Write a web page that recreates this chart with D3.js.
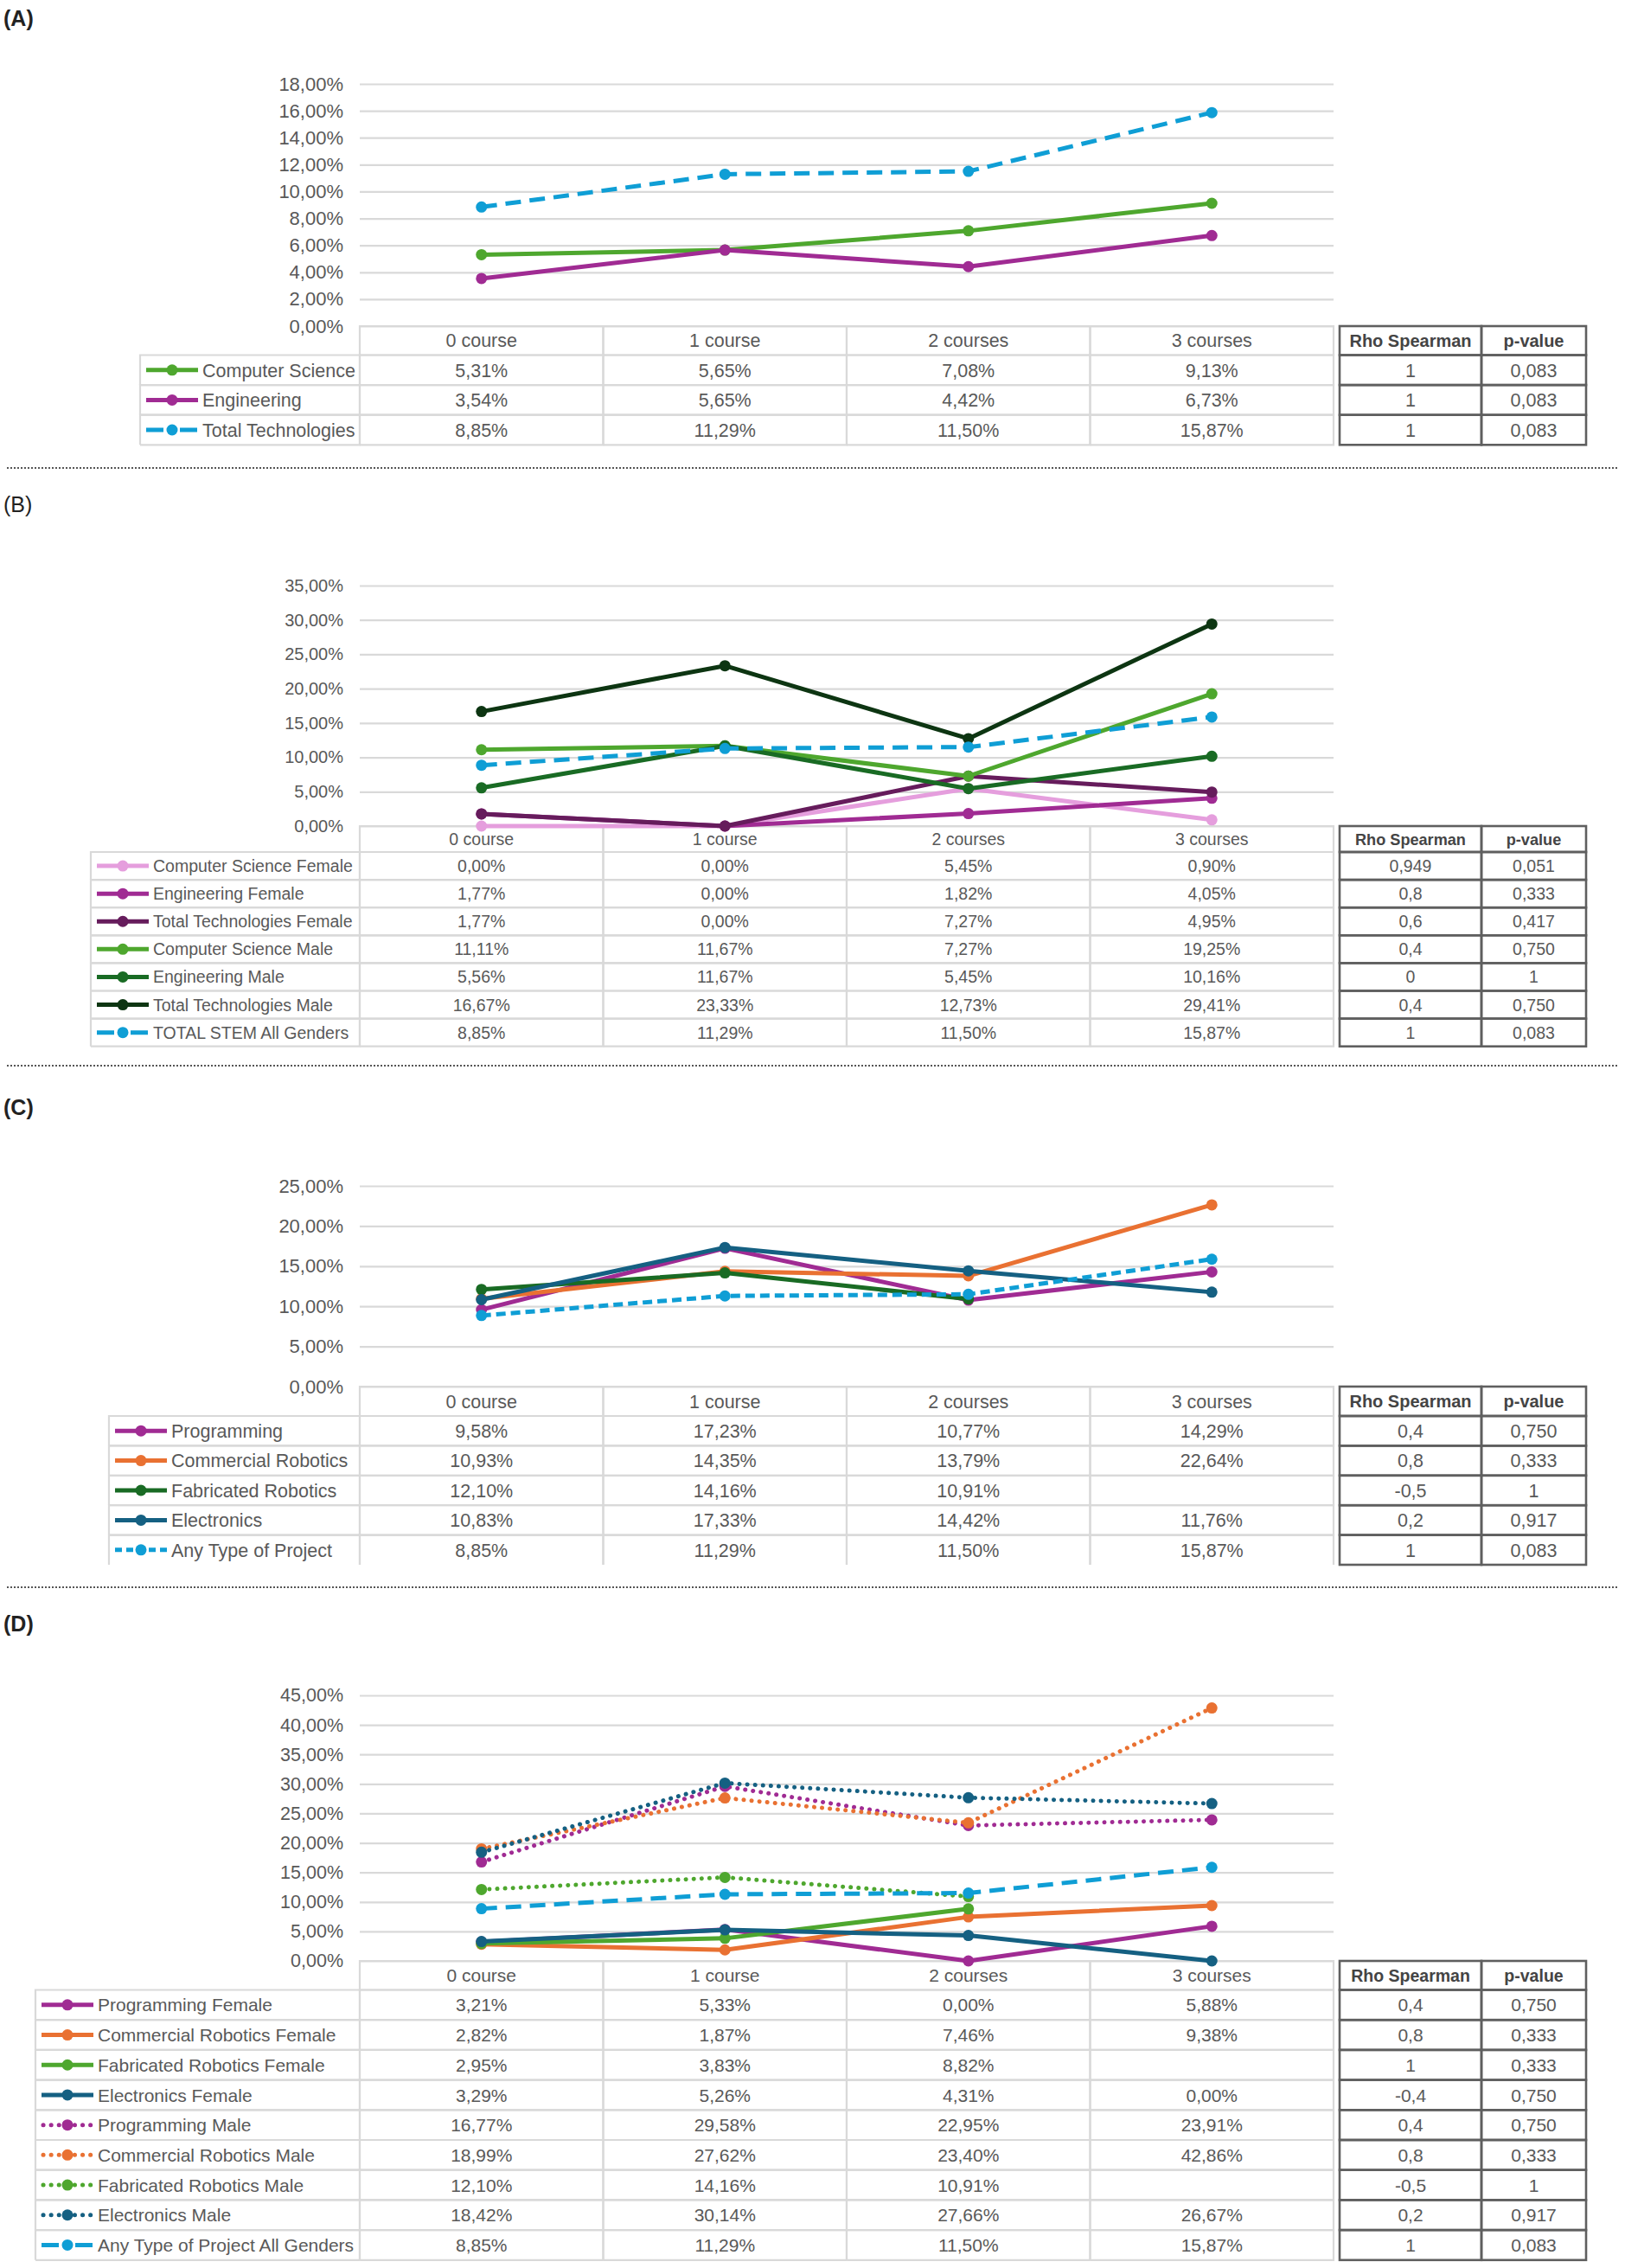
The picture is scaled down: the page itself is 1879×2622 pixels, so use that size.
<!DOCTYPE html>
<html>
<head>
<meta charset="utf-8">
<script src="https://cdn.jsdelivr.net/npm/d3@7"></script>
<style>
    body { margin: 0; background: #fff; }
    svg { display: block; font-family: "Liberation Sans", Arial, sans-serif; }
</style>
</head>
<body>
<div id="chart"></div>
<script>

// categories shared by all four panels
const courses = ['0 course', '1 course', '2 courses', '3 courses'];

// (A) technologies
const aSeries = ['Computer Science', 'Engineering', 'Total Technologies'];
const aValues = [
    [5.31, 5.65, 7.08, 9.13],
    [3.54, 5.65, 4.42, 6.73],
    [8.85, 11.29, 11.50, 15.87]
];
const aRho = ['1', '1', '1'];
const aPValue = ['0,083', '0,083', '0,083'];
const aTicks = [0, 2, 4, 6, 8, 10, 12, 14, 16, 18];

// (B) technologies by gender
const bSeries = ['Computer Science Female', 'Engineering Female', 'Total Technologies Female',
    'Computer Science Male', 'Engineering Male', 'Total Technologies Male', 'TOTAL STEM All Genders'];
const bValues = [
    [0.00, 0.00, 5.45, 0.90],
    [1.77, 0.00, 1.82, 4.05],
    [1.77, 0.00, 7.27, 4.95],
    [11.11, 11.67, 7.27, 19.25],
    [5.56, 11.67, 5.45, 10.16],
    [16.67, 23.33, 12.73, 29.41],
    [8.85, 11.29, 11.50, 15.87]
];
const bRho = ['0,949', '0,8', '0,6', '0,4', '0', '0,4', '1'];
const bPValue = ['0,051', '0,333', '0,417', '0,750', '1', '0,750', '0,083'];
const bTicks = [0, 5, 10, 15, 20, 25, 30, 35];

// (C) project types
const cSeries = ['Programming', 'Commercial Robotics', 'Fabricated Robotics', 'Electronics', 'Any Type of Project'];
const cValues = [
    [9.58, 17.23, 10.77, 14.29],
    [10.93, 14.35, 13.79, 22.64],
    [12.10, 14.16, 10.91, null],
    [10.83, 17.33, 14.42, 11.76],
    [8.85, 11.29, 11.50, 15.87]
];
const cRho = ['0,4', '0,8', '-0,5', '0,2', '1'];
const cPValue = ['0,750', '0,333', '1', '0,917', '0,083'];
const cTicks = [0, 5, 10, 15, 20, 25];

// (D) project types by gender
const dSeries = ['Programming Female', 'Commercial Robotics Female', 'Fabricated Robotics Female', 'Electronics Female',
    'Programming Male', 'Commercial Robotics Male', 'Fabricated Robotics Male', 'Electronics Male',
    'Any Type of Project All Genders'];
const dValues = [
    [3.21, 5.33, 0.00, 5.88],
    [2.82, 1.87, 7.46, 9.38],
    [2.95, 3.83, 8.82, null],
    [3.29, 5.26, 4.31, 0.00],
    [16.77, 29.58, 22.95, 23.91],
    [18.99, 27.62, 23.40, 42.86],
    [12.10, 14.16, 10.91, null],
    [18.42, 30.14, 27.66, 26.67],
    [8.85, 11.29, 11.50, 15.87]
];
const dRho = ['0,4', '0,8', '1', '-0,4', '0,4', '0,8', '-0,5', '0,2', '1'];
const dPValue = ['0,750', '0,333', '0,333', '0,750', '0,750', '0,333', '1', '0,917', '0,083'];
const dTicks = [0, 5, 10, 15, 20, 25, 30, 35, 40, 45];

// colours (Office theme)
const purple = '#a02b93', green = '#4ea72e', blue = '#0f9ed5', orange = '#e97132',
    darkGreen = '#196b24', teal = '#156082';

let width = 1879,
    height = 2622,
    plotLeft = 416,
    plotRight = 1542,
    statCols = [1549, 1713, 1834],
    textColor = '#595959',
    gridColor = '#d9d9d9',
    statBorder = '#5f5f5f',
    dashes = {solid: null, dash: '18,10', sysDash: '11,6', dot: '0.1,9'},
    keyDashes = {solid: null, dash: '20,19', sysDash: '8,5', dot: '0.1,9'},

    // comma decimal formatting
    locale = d3.formatLocale({decimal: ',', thousands: '.', grouping: [3], currency: ['', '€']}),
    pct = v => locale.format('.2f')(v) + '%';

const panels = [
    {
        label: '(A)', bold: true, labelY: 30, top: 97, zero: 377, ticks: aTicks,
        headerH: 33.5, rowH: 34.6, legendLeft: 162, font: 21.5, bottomLine: true,
        names: aSeries, values: aValues, rho: aRho, pval: aPValue,
        colors: [green, purple, blue],
        dash: ['solid', 'solid', 'dash']
    },
    {
        label: '(B)', bold: false, labelY: 592, top: 677, zero: 955, ticks: bTicks,
        headerH: 30, rowH: 32.1, legendLeft: 105, font: 19.5, bottomLine: true,
        names: bSeries, values: bValues, rho: bRho, pval: bPValue,
        colors: ['#e59edd', purple, '#661c5c', green, darkGreen, '#0d3512', blue],
        dash: ['solid', 'solid', 'solid', 'solid', 'solid', 'solid', 'dash']
    },
    {
        label: '(C)', bold: true, labelY: 1289, top: 1371, zero: 1603, ticks: cTicks,
        headerH: 34, rowH: 34.4, legendLeft: 126, font: 21.5, bottomLine: false,
        names: cSeries, values: cValues, rho: cRho, pval: cPValue,
        colors: [purple, orange, darkGreen, teal, blue],
        dash: ['solid', 'solid', 'solid', 'solid', 'sysDash']
    },
    {
        label: '(D)', bold: true, labelY: 1886, top: 1960, zero: 2267, ticks: dTicks,
        headerH: 33.5, rowH: 34.7, legendLeft: 41, font: 21, bottomLine: true,
        names: dSeries, values: dValues, rho: dRho, pval: dPValue,
        colors: [purple, orange, green, teal, purple, orange, green, teal, blue],
        dash: ['solid', 'solid', 'solid', 'solid', 'dot', 'dot', 'dot', 'dot', 'dash']
    }
];

// dotted separators between panels
const separators = [541, 1232, 1835];

let svg = d3.select('#chart')
    .append('svg')
    .attr('width', width)
    .attr('height', height);

svg.append('rect').attr('width', width).attr('height', height).attr('fill', '#fff');

separators.forEach(sy => {
    svg.append('line')
        .attr('x1', 8).attr('x2', 1871)
        .attr('y1', sy).attr('y2', sy)
        .attr('stroke', '#555')
        .attr('stroke-width', 2)
        .attr('stroke-dasharray', '2,2');
});

// draws one light grey cell as separate edges, so the bottom edge can be left out
function cell(sel, x0, y0, w, h, bottom) {
    let path = `M${x0},${y0 + h}V${y0}H${x0 + w}V${y0 + h}` + (bottom ? `H${x0}` : '');
    sel.append('path')
        .attr('d', path)
        .attr('fill', 'none')
        .attr('stroke', gridColor)
        .attr('stroke-width', 2.2);
}

function drawPanel(p) {

    let g = svg.append('g'),
        x = d3.scaleBand().domain(courses).range([plotLeft, plotRight]),
        bw = x.bandwidth(),
        y = d3.scaleLinear().domain([0, d3.max(p.ticks)]).range([p.zero, p.top]),
        cx = i => x(courses[i]) + bw / 2,
        last = p.names.length - 1;

    // panel letter
    g.append('text')
        .attr('x', 4)
        .attr('y', p.labelY)
        .attr('font-size', 25)
        .attr('font-weight', p.bold ? 'bold' : 'normal')
        .attr('fill', '#222')
        .text(p.label);

    // y axis with grid lines
    g.append('g')
        .attr('transform', `translate(${plotLeft},0)`)
        .call(d3.axisLeft(y).tickValues(p.ticks).tickSize(-(plotRight - plotLeft)).tickPadding(19).tickFormat(pct))
        .call(a => a.select('.domain').remove())
        .call(a => a.selectAll('line').attr('stroke', gridColor).attr('stroke-width', 2.2))
        .call(a => a.selectAll('text')
            .attr('fill', textColor)
            .attr('font-size', p.font + 0.5)
            .attr('font-family', '"Liberation Sans", Arial, sans-serif'));

    // header row of the data table
    let header = g.append('g');
    courses.forEach(c => {
        cell(header, x(c), p.zero, bw, p.headerH, true);
        header.append('text')
            .attr('x', x(c) + bw / 2)
            .attr('y', p.zero + p.headerH / 2)
            .attr('dy', '0.36em')
            .attr('text-anchor', 'middle')
            .attr('font-size', p.font)
            .attr('fill', textColor)
            .text(c);
    });

    // stats header
    [['Rho Spearman', 0], ['p-value', 1]].forEach(([t, k]) => {
        g.append('rect')
            .attr('x', statCols[k]).attr('y', p.zero)
            .attr('width', statCols[k + 1] - statCols[k]).attr('height', p.headerH)
            .attr('fill', 'none').attr('stroke', statBorder).attr('stroke-width', 2.6);
        g.append('text')
            .attr('x', (statCols[k] + statCols[k + 1]) / 2)
            .attr('y', p.zero + p.headerH / 2)
            .attr('dy', '0.36em')
            .attr('text-anchor', 'middle')
            .attr('font-size', p.font * 0.93)
            .attr('font-weight', 'bold')
            .attr('fill', '#444')
            .text(t);
    });

    // table rows: legend key, values, stats
    p.names.forEach((name, i) => {
        let y0 = p.zero + p.headerH + i * p.rowH,
            ym = y0 + p.rowH / 2,
            closed = i < last || p.bottomLine,
            row = g.append('g');

        cell(row, p.legendLeft, y0, plotLeft - p.legendLeft, p.rowH, closed);

        // legend key
        row.append('line')
            .attr('x1', p.legendLeft + 7).attr('x2', p.legendLeft + 67)
            .attr('y1', ym).attr('y2', ym)
            .attr('stroke', p.colors[i])
            .attr('stroke-width', 5)
            .attr('stroke-linecap', p.dash[i] === 'dot' ? 'round' : 'butt')
            .attr('stroke-dasharray', keyDashes[p.dash[i]])
            .attr('stroke-dashoffset', p.dash[i] === 'dot' ? -2 : 0);
        row.append('circle')
            .attr('cx', p.legendLeft + 37).attr('cy', ym).attr('r', 6.5)
            .attr('fill', p.colors[i]);
        row.append('text')
            .attr('x', p.legendLeft + 72)
            .attr('y', ym)
            .attr('dy', '0.36em')
            .attr('font-size', p.font)
            .attr('fill', textColor)
            .text(name);

        // values
        courses.forEach((c, j) => {
            cell(row, x(c), y0, bw, p.rowH, closed);
            let v = p.values[i][j];
            if (v != null) {
                row.append('text')
                    .attr('x', x(c) + bw / 2)
                    .attr('y', ym)
                    .attr('dy', '0.36em')
                    .attr('text-anchor', 'middle')
                    .attr('font-size', p.font)
                    .attr('fill', textColor)
                    .text(pct(v));
            }
        });

        // rho and p-value
        [p.rho[i], p.pval[i]].forEach((t, k) => {
            row.append('rect')
                .attr('x', statCols[k]).attr('y', y0)
                .attr('width', statCols[k + 1] - statCols[k]).attr('height', p.rowH)
                .attr('fill', 'none').attr('stroke', statBorder).attr('stroke-width', 2.6);
            row.append('text')
                .attr('x', (statCols[k] + statCols[k + 1]) / 2)
                .attr('y', ym)
                .attr('dy', '0.36em')
                .attr('text-anchor', 'middle')
                .attr('font-size', p.font)
                .attr('fill', textColor)
                .text(t);
        });
    });

    // series lines and markers
    let line = d3.line()
        .defined(d => d != null)
        .x((d, i) => cx(i))
        .y(d => y(d));

    p.values.forEach((vals, i) => {
        g.append('path')
            .datum(vals)
            .attr('d', line)
            .attr('fill', 'none')
            .attr('stroke', p.colors[i])
            .attr('stroke-width', 5)
            .attr('stroke-linejoin', 'round')
            .attr('stroke-linecap', p.dash[i] === 'dot' ? 'round' : 'butt')
            .attr('stroke-dasharray', dashes[p.dash[i]]);

        g.selectAll(null)
            .data(vals.map((v, j) => ({v, j})).filter(d => d.v != null))
            .enter()
            .append('circle')
            .attr('cx', d => cx(d.j))
            .attr('cy', d => y(d.v))
            .attr('r', 6.5)
            .attr('fill', p.colors[i]);
    });
}

panels.forEach(drawPanel);

</script>
</body>
</html>
